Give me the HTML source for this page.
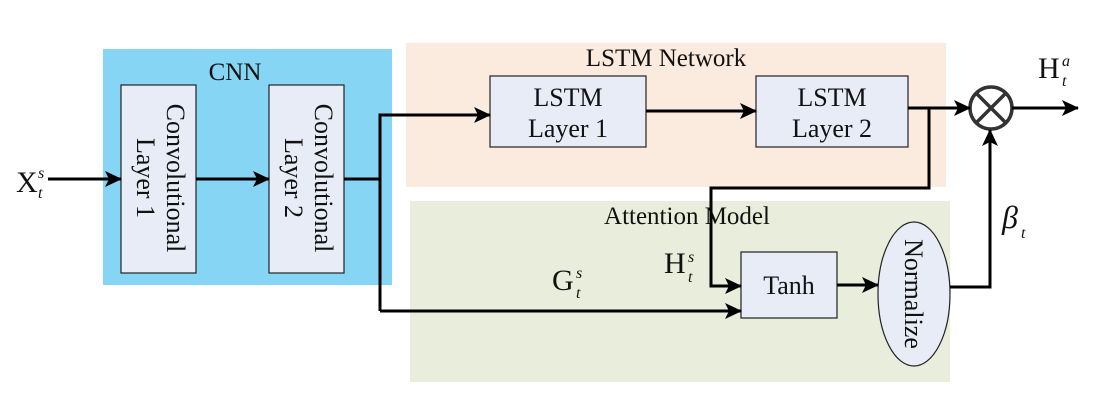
<!DOCTYPE html>
<html><head><meta charset="utf-8"><style>
html,body{margin:0;padding:0;background:#fff;}
svg{display:block;}
text{font-family:"Liberation Serif","DejaVu Serif",serif;fill:#111;}
</style></head><body>
<svg width="1104" height="414" viewBox="0 0 1104 414" xmlns="http://www.w3.org/2000/svg">
<defs>
<marker id="a" markerWidth="20" markerHeight="16" refX="16" refY="8" orient="auto" markerUnits="userSpaceOnUse">
<path d="M0,0 L17,8 L0,16 L4,8 Z" fill="#000"/>
</marker>
</defs>
<rect x="103" y="49" width="289" height="236" fill="#86d5f5"/>
<rect x="406" y="43" width="540" height="144" fill="#fbeade"/>
<rect x="410" y="201" width="540" height="181" fill="#e8eedb"/>
<text x="235" y="80" font-size="25" text-anchor="middle">CNN</text>
<text x="666" y="66" font-size="25" text-anchor="middle">LSTM Network</text>
<text x="687" y="224" font-size="25" text-anchor="middle">Attention Model</text>
<rect x="121" y="85" width="75" height="188" fill="#e8ecf6" stroke="#222" stroke-width="1.2"/>
<rect x="269" y="85" width="75" height="188" fill="#e8ecf6" stroke="#222" stroke-width="1.2"/>
<text transform="translate(167,178) rotate(90)" font-size="26" text-anchor="middle">Convolutional</text>
<text transform="translate(137,178) rotate(90)" font-size="26" text-anchor="middle">Layer 1</text>
<text transform="translate(315,178) rotate(90)" font-size="26" text-anchor="middle">Convolutional</text>
<text transform="translate(285,178) rotate(90)" font-size="26" text-anchor="middle">Layer 2</text>
<rect x="490" y="76" width="156" height="71" fill="#e8ecf6" stroke="#222" stroke-width="1.2"/>
<rect x="756" y="76" width="152" height="71" fill="#e8ecf6" stroke="#222" stroke-width="1.2"/>
<text x="568" y="106" font-size="26" text-anchor="middle">LSTM</text>
<text x="568" y="137" font-size="26" text-anchor="middle">Layer 1</text>
<text x="832" y="106" font-size="26" text-anchor="middle">LSTM</text>
<text x="832" y="137" font-size="26" text-anchor="middle">Layer 2</text>
<rect x="741" y="252" width="96" height="66" fill="#e8ecf6" stroke="#222" stroke-width="1.2"/>
<text x="789" y="294" font-size="26" text-anchor="middle">Tanh</text>
<ellipse cx="914" cy="294" rx="36" ry="72" fill="#e8ecf6" stroke="#222" stroke-width="1.2"/>
<text transform="translate(905,294) rotate(90)" font-size="26" text-anchor="middle">Normalize</text>
<circle cx="991" cy="108" r="21" fill="#fff" stroke="#333" stroke-width="3.5"/>
<line x1="976" y1="93" x2="1006" y2="123" stroke="#333" stroke-width="3.5"/>
<line x1="1006" y1="93" x2="976" y2="123" stroke="#333" stroke-width="3.5"/>
<g stroke="#000" stroke-width="3" fill="none">
<line x1="48" y1="179" x2="121" y2="179" marker-end="url(#a)"/>
<line x1="196" y1="179" x2="269" y2="179" marker-end="url(#a)"/>
<polyline points="344,179 380,179"/>
<polyline points="380,311 380,115 490,115" marker-end="url(#a)"/>
<polyline points="380,311 741,311" marker-end="url(#a)"/>
<line x1="646" y1="111" x2="756" y2="111" marker-end="url(#a)"/>
<line x1="908" y1="108" x2="970" y2="108" marker-end="url(#a)"/>
<polyline points="929,108 929,188 711,188 711,286 741,286" marker-end="url(#a)"/>
<line x1="837" y1="285" x2="878" y2="285" marker-end="url(#a)"/>
<polyline points="950,287 990,287 990,130" marker-end="url(#a)"/>
<line x1="1012" y1="108" x2="1078" y2="108" marker-end="url(#a)"/>
</g>
<text x="16" y="192" font-size="30">X</text>
<text x="38" y="178" font-size="16" font-style="italic">s</text>
<text x="38" y="198" font-size="16" font-style="italic">t</text>
<text x="1038" y="78" font-size="30">H</text>
<text x="1062" y="66" font-size="16" font-style="italic">a</text>
<text x="1062" y="86" font-size="16" font-style="italic">t</text>
<text x="664" y="273" font-size="30">H</text>
<text x="688" y="262" font-size="16" font-style="italic">s</text>
<text x="688" y="282" font-size="16" font-style="italic">t</text>
<text x="552" y="290" font-size="30">G</text>
<text x="576" y="278" font-size="16" font-style="italic">s</text>
<text x="576" y="298" font-size="16" font-style="italic">t</text>
<text x="1002" y="228" font-size="32" font-style="italic">β</text>
<text x="1021" y="238" font-size="16" font-style="italic">t</text>
</svg>
</body></html>
